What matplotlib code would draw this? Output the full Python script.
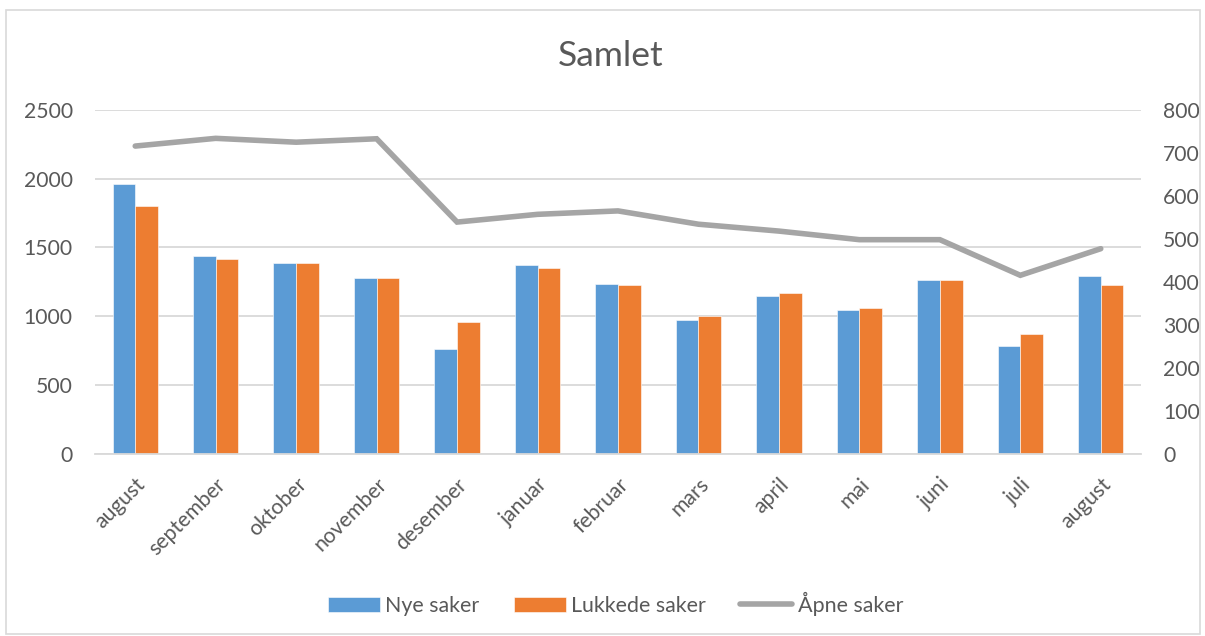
import numpy as np
import matplotlib.pyplot as plt
import matplotlib.patches as patches
from matplotlib.ticker import MultipleLocator

months = ["august", "september", "oktober", "november", "desember", "januar",
          "februar", "mars", "april", "mai", "juni", "juli", "august"]
nye = [1965, 1435, 1385, 1280, 758, 1370, 1234, 969, 1149, 1042, 1265, 785, 1292]
lukkede = [1800, 1415, 1390, 1275, 955, 1350, 1224, 1000, 1168, 1061, 1265, 868, 1229]
apne = [716, 734, 725, 733, 539, 557, 565, 534, 518, 498, 498, 415, 477]

BLUE = '#5B9BD5'
ORANGE = '#ED7D31'
GRAY = '#A5A5A5'
TXT = '#595959'
GRID = '#D9D9D9'

plt.rcParams['font.family'] = ['Lato', 'DejaVu Sans']

W, H = 1205, 636
fig = plt.figure(figsize=(W / 100, H / 100), dpi=100)
ax = fig.add_axes([95 / W, 1 - 453.5 / H, (1141 - 95) / W, (453.5 - 110) / H])
ax2 = ax.twinx()

x = np.arange(len(months))
bw = 0.282
ax.bar(x - bw / 2, nye, bw, color=BLUE, edgecolor='white', linewidth=0.4,
       label='Nye saker', zorder=2)
ax.bar(x + bw / 2, lukkede, bw, color=ORANGE, edgecolor='white', linewidth=0.4,
       label='Lukkede saker', zorder=2)
ax2.plot(x, apne, color=GRAY, linewidth=4, solid_capstyle='round',
         solid_joinstyle='miter', label='Åpne saker')

ax.set_xlim(-0.5, len(months) - 0.5)
ax.set_ylim(0, 2500)
ax2.set_ylim(0, 800)
ax.yaxis.set_major_locator(MultipleLocator(500))
ax2.yaxis.set_major_locator(MultipleLocator(100))

ax.grid(axis='y', color=GRID, linewidth=1.3, zorder=0)
ax.set_axisbelow(True)
for a in (ax, ax2):
    for s in a.spines.values():
        s.set_visible(False)
    a.tick_params(length=0, labelsize=15.2, colors=TXT)
ax.spines['bottom'].set_visible(True)
ax.spines['bottom'].set_color(GRID)
ax.spines['bottom'].set_linewidth(1.3)

ax.tick_params(axis='y', pad=16)
ax2.tick_params(axis='y', pad=16)
ax.set_xticks(x)
ax.set_xticklabels(months, rotation=45, ha='right', rotation_mode='anchor')
ax.tick_params(axis='x', pad=15)

fig.text(611 / W, 1 - 56 / H, 'Samlet', ha='center', va='center',
         fontsize=25.5, color=TXT)

h1, l1 = ax.get_legend_handles_labels()
h2, l2 = ax2.get_legend_handles_labels()
fig.legend(h1 + h2, l1 + l2, loc='center', bbox_to_anchor=(615.5 / W, 1 - 604 / H),
           ncol=3, frameon=False, fontsize=15.4, labelcolor=TXT,
           handlelength=2.43, handleheight=0.75, handletextpad=0.25, columnspacing=1.6)

fig.patches.append(patches.Rectangle((6 / W, 1 - 634 / H), (1200 - 6) / W, (634 - 10) / H,
                                     transform=fig.transFigure, fill=False,
                                     edgecolor=GRID, linewidth=1.2))

fig.savefig('out.png', dpi=100)
